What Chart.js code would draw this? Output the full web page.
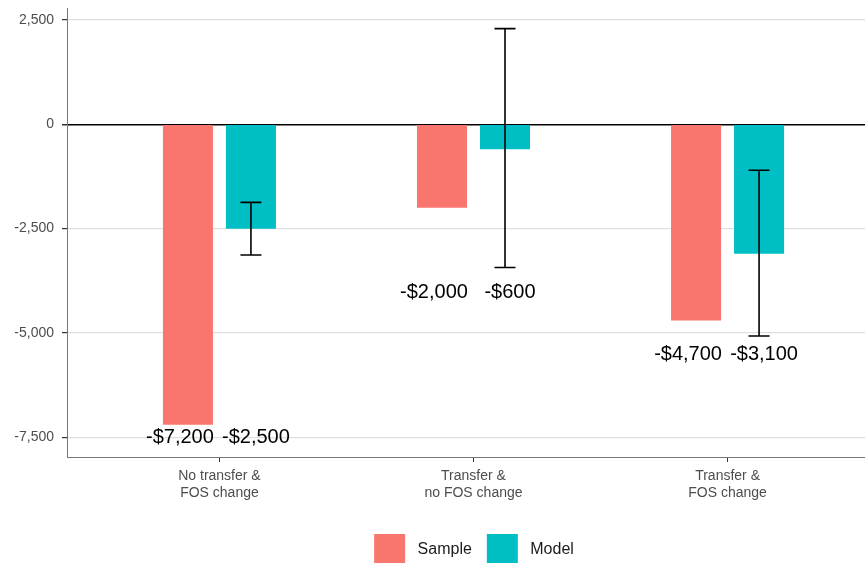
<!DOCTYPE html>
<html>
<head>
<meta charset="utf-8">
<script src="https://cdn.jsdelivr.net/npm/chart.js@4.4.0/dist/chart.umd.min.js"></script>
<style>
  html, body { margin: 0; padding: 0; background: #fff; overflow: hidden; }
  #wrap { position: absolute; left: 0; top: 0; width: 880px; height: 575px; }
</style>
</head>
<body>
<div id="wrap"><canvas id="chart"></canvas></div>
<script>
// categories (two-line tick labels)
const categories = [
  ['No transfer &', 'FOS change'],
  ['Transfer &', 'no FOS change'],
  ['Transfer &', 'FOS change']
];
const sampleValues = [-7200, -2000, -4700];
const modelValues = [-2500, -600, -3100];
// model error bar ends
const modelLow = [-3130, -3430, -5070];
const modelHigh = [-1870, 2290, -1100];
// where the value labels sit (y value)
const labelLevels = [-7500, -4030, -5520];
const yTicks = [-7500, -5000, -2500, 0, 2500];

const money = v => (v < 0 ? '-' : '') + '$' + Math.abs(v).toLocaleString('en-US');

const errorBars = {
  id: 'errorBars',
  afterLayout(chart) {
    // centre the legend where the reference has it
    const lg = chart.legend;
    if (lg) { lg.left += 34; lg.right += 34; }
  },
  afterDatasetsDraw(chart) {
    const ctx = chart.ctx, y = chart.scales.y;
    const meta = chart.getDatasetMeta(1);
    ctx.save();
    ctx.strokeStyle = '#000';
    ctx.lineWidth = 1.6;
    meta.data.forEach((bar, i) => {
      const x = bar.x, y1 = y.getPixelForValue(modelHigh[i]), y2 = y.getPixelForValue(modelLow[i]);
      ctx.beginPath();
      ctx.moveTo(x, y1); ctx.lineTo(x, y2);
      ctx.moveTo(x - 10.5, y1); ctx.lineTo(x + 10.5, y1);
      ctx.moveTo(x - 10.5, y2); ctx.lineTo(x + 10.5, y2);
      ctx.stroke();
    });
    // value labels
    ctx.fillStyle = '#000';
    ctx.font = '20px "Liberation Sans", Arial, sans-serif';
    ctx.textAlign = 'center';
    ctx.textBaseline = 'middle';
    const s = chart.getDatasetMeta(0).data;
    s.forEach((bar, i) => {
      const ly = y.getPixelForValue(labelLevels[i]);
      ctx.fillText(money(sampleValues[i]), bar.x - 8, ly);
      ctx.fillText(money(modelValues[i]), meta.data[i].x + 5, ly);
    });
    ctx.restore();
  }
};

new Chart(document.getElementById('chart'), {
  type: 'bar',
  data: {
    datasets: [
      {
        label: ' Sample',
        data: sampleValues.map((v, i) => ({ x: i + 1, y: v })),
        backgroundColor: '#F8766D',
        categoryPercentage: 0.496,
        barPercentage: 0.794
      },
      {
        label: ' Model',
        data: modelValues.map((v, i) => ({ x: i + 1, y: v })),
        backgroundColor: '#00BFC4',
        categoryPercentage: 0.496,
        barPercentage: 0.794
      }
    ]
  },
  options: {
    responsive: true,
    maintainAspectRatio: false,
    animation: false,
    layout: { padding: { top: 8, left: 0, right: 0, bottom: 0 } },
    plugins: {
      tooltip: { enabled: false },
      legend: {
        position: 'bottom',
        labels: {
          boxWidth: 31,
          boxHeight: 31,
          padding: 15,
          color: '#1a1a1a',
          font: { family: '"Liberation Sans", Arial, sans-serif', size: 16 }
        }
      }
    },
    scales: {
      x: {
        type: 'linear',
        offset: false,
        min: 0.4,
        max: 3.6,
        afterBuildTicks: s => { s.ticks = categories.map((c, i) => ({ value: i + 1 })); },
        afterFit: s => { s.height = 62; s.paddingLeft = 0; s.paddingRight = 0; },
        grid: { offset: false, drawOnChartArea: false, drawTicks: true, tickLength: 5, tickColor: '#333' },
        border: { display: true, color: '#777', width: 1 },
        ticks: {
          autoSkip: false,
          maxRotation: 0,
          padding: 6,
          color: '#4d4d4d',
          font: { family: '"Liberation Sans", Arial, sans-serif', size: 14 },
          callback: v => categories[v - 1]
        }
      },
      y: {
        min: -7970,
        max: 2785,
        afterBuildTicks: s => { s.ticks = yTicks.map(v => ({ value: v })); },
        afterFit: s => { s.width = 67; s.paddingTop = 0; s.paddingBottom = 0; },
        grid: {
          color: c => c.tick && c.tick.value === 0 ? '#000' : '#e0e0e0',
          lineWidth: c => c.tick && c.tick.value === 0 ? 1.5 : 1.2,
          tickColor: '#333',
          tickLength: 5
        },
        border: { display: true, color: '#777', width: 1 },
        ticks: {
          padding: 8,
          color: '#4d4d4d',
          font: { family: '"Liberation Sans", Arial, sans-serif', size: 14 },
          callback: v => v.toLocaleString('en-US')
        }
      }
    }
  },
  plugins: [errorBars]
});
</script>
</body>
</html>
